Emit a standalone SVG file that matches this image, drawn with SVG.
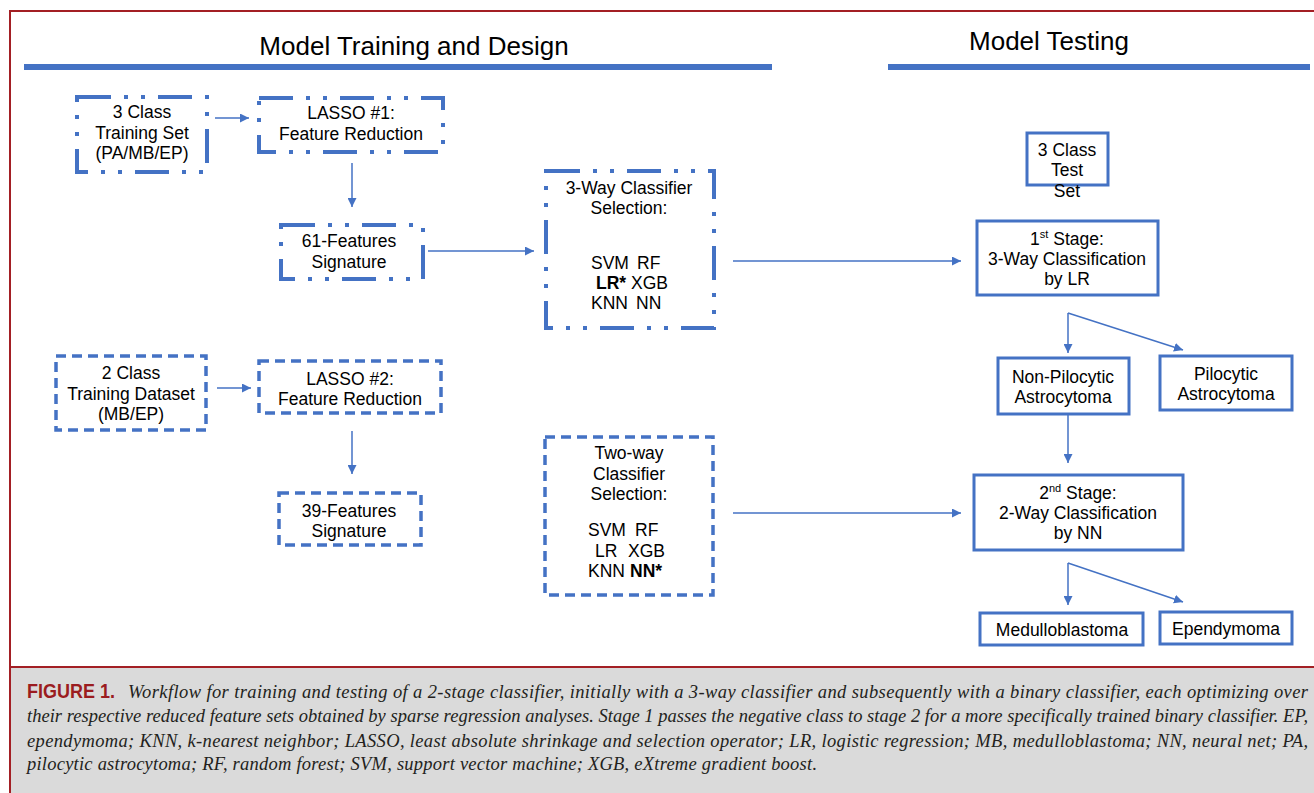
<svg xmlns="http://www.w3.org/2000/svg" width="1314" height="793" viewBox="0 0 1314 793">
<style>
.t{font-family:"Liberation Sans",Arial,sans-serif;font-size:17.5px;fill:#000;text-anchor:middle}
.l{font-family:"Liberation Sans",Arial,sans-serif;font-size:17.5px;fill:#000}
.h{font-family:"Liberation Sans",Arial,sans-serif;font-size:26px;fill:#000;text-anchor:middle}
.b{font-weight:bold}
.sup{font-size:11px}
.dd{fill:none;stroke:#4472C4;stroke-width:4;stroke-dasharray:34 13 4 13 4 13}
.ds{fill:none;stroke:#4472C4;stroke-width:3.5;stroke-dasharray:10 6}
.sb{fill:none;stroke:#4472C4;stroke-width:3}
.c{fill:none;stroke:#4472C4;stroke-width:1.5}
.cap{font-family:"Liberation Serif","Times New Roman",serif;font-style:italic;font-size:18.5px;fill:#231f20}
.fig{font-family:"Liberation Sans",Arial,sans-serif;font-weight:bold;font-size:21px;fill:#9b1c20}
</style>
<defs>
<marker id="ah" markerUnits="userSpaceOnUse" markerWidth="10" markerHeight="9" refX="9" refY="4.5" orient="auto">
<path d="M0,0 L9,4.5 L0,9 z" fill="#4472C4"/>
</marker>
</defs>
<rect x="0" y="0" width="1314" height="793" fill="#fff"/>
<g id="frame">
<rect x="10" y="668" width="1304" height="125" fill="#dadada"/>
<path d="M1314,11 L10,11 L10,793" fill="none" stroke="#a31f24" stroke-width="2"/>
<path d="M10,667 L1314,667" stroke="#a31f24" stroke-width="2"/>
</g>
<g id="headers">
<rect x="24" y="64" width="748" height="6" fill="#4472C4"/>
<rect x="888" y="64" width="422" height="6" fill="#4472C4"/>
<text class="h" x="414" y="55">Model Training and Design</text>
<text class="h" x="1049" y="50">Model Testing</text>
</g>
<g id="connectors">
<path class="c" d="M215,118 L249,118" marker-end="url(#ah)"/>
<path class="c" d="M352,163 L352,207" marker-end="url(#ah)"/>
<path class="c" d="M428,251 L534,251" marker-end="url(#ah)"/>
<path class="c" d="M217,388 L251,388" marker-end="url(#ah)"/>
<path class="c" d="M352,431 L352,474" marker-end="url(#ah)"/>
<path class="c" d="M733,261 L961,261" marker-end="url(#ah)"/>
<path class="c" d="M733,513 L961,513" marker-end="url(#ah)"/>
<path class="c" d="M1068,313 L1068,353" marker-end="url(#ah)"/>
<path class="c" d="M1068,313 L1183,350" marker-end="url(#ah)"/>
<path class="c" d="M1068,415 L1068,463" marker-end="url(#ah)"/>
<path class="c" d="M1068,563 L1068,605" marker-end="url(#ah)"/>
<path class="c" d="M1068,563 L1183,602" marker-end="url(#ah)"/>
</g>
<g id="n3class">
<rect class="dd" x="77" y="97" width="130" height="75"/>
<text class="t" x="142" y="118">3 Class</text>
<text class="t" x="142" y="139">Training Set</text>
<text class="t" x="142" y="159">(PA/MB/EP)</text>
</g>
<g id="lasso1">
<rect class="dd" x="259" y="98" width="184" height="54"/>
<text class="t" x="351" y="119">LASSO #1:</text>
<text class="t" x="351" y="140">Feature Reduction</text>
</g>
<g id="f61">
<rect class="dd" x="281" y="225" width="142" height="54"/>
<text class="t" x="349" y="247">61-Features</text>
<text class="t" x="349" y="268">Signature</text>
</g>
<g id="sel3">
<rect class="dd" x="546" y="171" width="168" height="157"/>
<text class="t" x="629" y="194">3-Way Classifier</text>
<text class="t" x="629" y="214">Selection:</text>
<text class="l" y="269"><tspan x="591">SVM</tspan><tspan x="637">RF</tspan></text>
<text class="l" y="289"><tspan x="596" class="b">LR*</tspan><tspan x="631">XGB</tspan></text>
<text class="l" y="309"><tspan x="591">KNN</tspan><tspan x="636">NN</tspan></text>
</g>
<g id="n2class">
<rect class="ds" x="56" y="356" width="150" height="74"/>
<text class="t" x="131" y="379">2 Class</text>
<text class="t" x="131" y="400">Training Dataset</text>
<text class="t" x="131" y="420">(MB/EP)</text>
</g>
<g id="lasso2">
<rect class="ds" x="259" y="361" width="182" height="52"/>
<text class="t" x="350" y="385">LASSO #2:</text>
<text class="t" x="350" y="405">Feature Reduction</text>
</g>
<g id="f39">
<rect class="ds" x="279" y="493" width="142" height="52"/>
<text class="t" x="349" y="517">39-Features</text>
<text class="t" x="349" y="537">Signature</text>
</g>
<g id="sel2">
<rect class="ds" x="545" y="437" width="168" height="158"/>
<text class="t" x="629" y="459">Two-way</text>
<text class="t" x="629" y="480">Classifier</text>
<text class="t" x="629" y="500">Selection:</text>
<text class="l" y="536"><tspan x="588">SVM</tspan><tspan x="635">RF</tspan></text>
<text class="l" y="557"><tspan x="595">LR</tspan><tspan x="628">XGB</tspan></text>
<text class="l" y="577"><tspan x="588">KNN</tspan><tspan x="630" class="b">NN*</tspan></text>
</g>
<g id="testset">
<rect class="sb" x="1027" y="133" width="81" height="52"/>
<text class="t" x="1067" y="156">3 Class</text>
<text class="t" x="1067" y="176">Test</text>
<text class="t" x="1067" y="197">Set</text>
</g>
<g id="stage1">
<rect class="sb" x="977" y="221" width="181" height="74"/>
<text class="t" x="1067" y="245">1<tspan class="sup" dy="-7">st</tspan><tspan dy="7"> Stage:</tspan></text>
<text class="t" x="1067" y="265">3-Way Classification</text>
<text class="t" x="1067" y="285">by LR</text>
</g>
<g id="nonpilo">
<rect class="sb" x="998" y="358" width="131" height="56"/>
<text class="t" x="1063" y="383">Non-Pilocytic</text>
<text class="t" x="1063" y="403">Astrocytoma</text>
</g>
<g id="pilo">
<rect class="sb" x="1160" y="356" width="132" height="54"/>
<text class="t" x="1226" y="380">Pilocytic</text>
<text class="t" x="1226" y="400">Astrocytoma</text>
</g>
<g id="stage2">
<rect class="sb" x="974" y="475" width="209" height="75"/>
<text class="t" x="1078" y="499">2<tspan class="sup" dy="-7">nd</tspan><tspan dy="7"> Stage:</tspan></text>
<text class="t" x="1078" y="519">2-Way Classification</text>
<text class="t" x="1078" y="539">by NN</text>
</g>
<g id="medullo">
<rect class="sb" x="980" y="613" width="163" height="32"/>
<text class="t" x="1062" y="636">Medulloblastoma</text>
</g>
<g id="ependy">
<rect class="sb" x="1160" y="612" width="132" height="32"/>
<text class="t" x="1226" y="635">Ependymoma</text>
</g>
<g id="caption">
<text class="fig" x="27" y="698" textLength="88" lengthAdjust="spacingAndGlyphs">FIGURE 1.</text>
<text class="cap" x="128" y="698" textLength="1180">Workflow for training and testing of a 2-stage classifier, initially with a 3-way classifier and subsequently with a binary classifier, each optimizing over</text>
<text class="cap" x="27" y="722" textLength="1281">their respective reduced feature sets obtained by sparse regression analyses. Stage 1 passes the negative class to stage 2 for a more specifically trained binary classifier. EP,</text>
<text class="cap" x="27" y="747" textLength="1281">ependymoma; KNN, k-nearest neighbor; LASSO, least absolute shrinkage and selection operator; LR, logistic regression; MB, medulloblastoma; NN, neural net; PA,</text>
<text class="cap" x="27" y="770" textLength="790">pilocytic astrocytoma; RF, random forest; SVM, support vector machine; XGB, eXtreme gradient boost.</text>
</g>
</svg>
